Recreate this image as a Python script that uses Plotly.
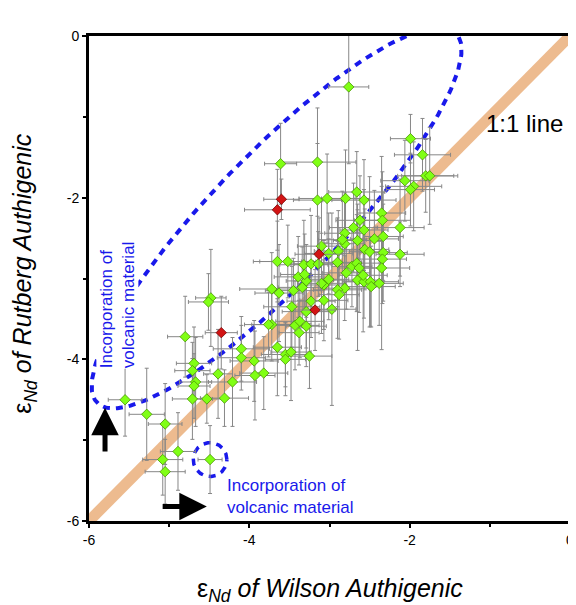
import numpy as np
import plotly.graph_objects as go

# ---------------- data (epsilon Nd) ----------------
wilson = [-5.55, -5.28, -5.05, -4.89, -5.08, -5.05, -4.49, -4.80, -4.48, -4.51,
          -4.69, -4.71, -4.67, -4.69, -4.71, -4.53, -4.39, -4.31, -4.21, -4.10,
          -4.10, -3.94, -3.93, -3.82, -3.65, -3.55, -3.55, -3.48, -3.25, -3.72,
          -3.76, -3.47, -3.43, -3.38, -3.29, -3.29, -3.07, -3.07, -3.72, -3.63,
          -3.45, -3.65, -3.52, -3.32, -3.23, -3.14, -3.39, -3.29, -3.10, -2.89,
          -2.81, -2.65, -2.90, -2.72, -2.66, -2.63, -2.79, -3.31, -3.10, -3.01,
          -2.65, -2.57, -3.34, -2.81, -2.90, -2.88, -3.23, -2.97, -3.37, -2.56,
          -2.50, -2.33, -2.12, -2.34, -2.35, -2.58, -2.49, -2.38, -2.48, -1.99,
          -1.84, -1.80, -1.75, -2.06, -1.95, -1.99, -2.57, -2.35, -2.34, -2.62,
          -2.12, -2.57, -2.44, -2.33, -3.61, -3.15, -3.15, -3.03, -2.80, -2.66,
          -2.70, -2.81, -2.84, -2.76, -3.01]
rutberg = [-4.50, -4.68, -4.80, -5.14, -5.24, -5.39, -5.24, -3.72, -3.24, -3.29,
           -4.05, -4.14, -4.28, -4.33, -4.49, -4.49, -4.18, -4.48, -4.28, -3.87,
           -3.98, -4.02, -4.20, -4.17, -3.85, -3.94, -4.00, -3.91, -3.96, -3.57,
           -3.57, -3.35, -3.58, -3.67, -3.59, -3.41, -3.27, -3.08, -3.13, -3.18,
           -3.15, -2.79, -2.79, -2.83, -2.82, -2.82, -2.98, -3.03, -2.60, -2.66,
           -2.57, -2.53, -2.80, -2.85, -2.81, -2.87, -2.93, -2.95, -3.06, -3.01,
           -3.02, -3.04, -3.11, -3.12, -3.14, -3.20, -3.28, -3.38, -3.53, -2.64,
           -2.67, -2.68, -2.70, -2.76, -2.87, -2.96, -3.04, -3.06, -3.10, -1.27,
           -1.47, -1.73, -1.73, -1.79, -1.86, -1.90, -2.03, -2.19, -2.28, -2.28,
           -2.37, -2.40, -2.51, -2.48, -1.58, -1.56, -2.03, -2.01, -2.01, -1.93,
           -2.37, -2.44, -2.52, -0.63, -2.69]
wilson_err = [0.21, 0.22, 0.21, 0.22, 0.25, 0.25, 0.15, 0.22, 0.19, 0.25,
              0.22, 0.22, 0.20, 0.20, 0.25, 0.20, 0.18, 0.30, 0.30, 0.35,
              0.30, 0.30, 0.25, 0.30, 0.30, 0.30, 0.25, 0.25, 0.28, 0.25,
              0.30, 0.35, 0.30, 0.25, 0.25, 0.30, 0.30, 0.25, 0.40, 0.30,
              0.35, 0.30, 0.35, 0.30, 0.25, 0.30, 0.30, 0.25, 0.30, 0.30,
              0.25, 0.30, 0.30, 0.25, 0.30, 0.25, 0.30, 0.30, 0.30, 0.25,
              0.30, 0.25, 0.30, 0.30, 0.30, 0.25, 0.30, 0.30, 0.30, 0.30,
              0.25, 0.30, 0.30, 0.30, 0.35, 0.30, 0.35, 0.30, 0.30, 0.25,
              0.35, 0.35, 0.35, 0.30, 0.35, 0.30, 0.40, 0.30, 0.35, 0.30,
              0.30, 0.30, 0.30, 0.25, 0.20, 0.48, 0.30, 0.35, 0.30, 0.35,
              0.30, 0.25, 0.30, 0.25, 0.30]
rutberg_err = [0.45, 0.57, 0.50, 0.48, 0.44, 0.40, 0.42, 0.50, 0.60, 0.35,
               0.45, 0.35, 0.55, 0.40, 0.50, 0.30, 0.55, 0.35, 0.55, 0.40,
               0.40, 0.50, 0.55, 0.45, 0.60, 0.40, 0.45, 0.60, 0.40, 0.45,
               0.40, 0.50, 0.55, 0.40, 0.50, 0.45, 0.50, 0.55, 0.45, 0.60,
               0.40, 0.50, 0.45, 0.55, 0.60, 0.40, 0.50, 0.45, 0.55, 0.50,
               0.60, 0.45, 0.55, 0.50, 0.60, 0.55, 0.45, 0.50, 0.62, 0.50,
               0.87, 0.45, 0.50, 0.40, 0.60, 0.55, 0.45, 1.19, 0.45, 0.50,
               0.93, 0.60, 0.40, 0.55, 1.01, 0.70, 0.55, 0.52, 0.50, 0.30,
               0.45, 0.45, 0.60, 0.50, 0.55, 0.45, 0.50, 0.70, 0.60, 0.55,
               0.60, 0.50, 0.60, 0.55, 0.50, 0.67, 0.70, 0.55, 0.60, 0.50,
               0.55, 0.50, 0.60, 0.95, 0.50]

red_wilson = [-4.35, -3.18, -3.13, -3.60, -3.65]
red_rutberg = [-3.67, -3.39, -2.70, -2.02, -2.15]
red_wilson_err = [0.20, 0.25, 0.30, 0.22, 0.41]
red_rutberg_err = [0.45, 0.50, 0.45, 0.25, 0.50]

one_to_one = [-6.3, 0.3]
tick_vals = [-6, -4, -2, 0]
tick_text = ["-6", "-4", "-2", "0"]
minor_vals = [-5, -3, -1]

# annotation ellipse parameters (in data units)
ell_cx, ell_cy, ell_a, ell_b, ell_ang = -3.66, -2.25, 3.2, 0.80, 45.7
circ_cx, circ_cy, circ_r = -4.49, -5.24, 0.21

FONT = "Liberation Sans, Arial, sans-serif"
BLUE = "rgb(25,25,235)"

t = np.linspace(0, 2 * np.pi, 300)
th = np.deg2rad(ell_ang)
ex = ell_cx + ell_a * np.cos(t) * np.cos(th) - ell_b * np.sin(t) * np.sin(th)
ey = ell_cy + ell_a * np.cos(t) * np.sin(th) + ell_b * np.sin(t) * np.cos(th)
cx = circ_cx + circ_r * np.cos(t)
cy = circ_cy + circ_r * np.sin(t)

fig = go.Figure()

fig.add_trace(go.Scatter(x=one_to_one, y=one_to_one, mode="lines",
                         line=dict(color="rgb(237,187,143)", width=11),
                         hoverinfo="skip", showlegend=False))

fig.add_trace(go.Scatter(x=ex, y=ey, mode="lines",
                         line=dict(color=BLUE, width=4, dash="7px,6px"),
                         hoverinfo="skip", showlegend=False))
fig.add_trace(go.Scatter(x=cx, y=cy, mode="lines",
                         line=dict(color=BLUE, width=3.5, dash="7px,6px"),
                         hoverinfo="skip", showlegend=False))

err_style = dict(type="data", visible=True, color="rgb(135,135,135)",
                 thickness=1, width=2)

fig.add_trace(go.Scatter(
    x=wilson, y=rutberg, mode="markers", cliponaxis=False,
    error_x=dict(array=wilson_err, **err_style),
    error_y=dict(array=rutberg_err, **err_style),
    marker=dict(symbol="diamond", size=8, color="rgb(128,255,20)",
                line=dict(color="rgb(70,150,0)", width=0.8)),
    showlegend=False))

fig.add_trace(go.Scatter(
    x=red_wilson, y=red_rutberg, mode="markers", cliponaxis=False,
    error_x=dict(array=red_wilson_err, **err_style),
    error_y=dict(array=red_rutberg_err, **err_style),
    marker=dict(symbol="diamond", size=8, color="rgb(210,20,20)",
                line=dict(color="rgb(120,0,0)", width=0.8)),
    showlegend=False))

axis_common = dict(
    range=[-6, 0], tickvals=tick_vals, ticktext=tick_text,
    ticks="outside", ticklen=4, tickwidth=2, tickcolor="black",
    showline=True, linewidth=3, linecolor="black", mirror=True,
    showgrid=False, zeroline=False,
    tickfont=dict(family=FONT, size=14, color="black"),
    minor=dict(tickvals=minor_vals, ticks="outside", ticklen=3,
               tickwidth=2, tickcolor="black"),
)

# page body has an 8px margin, so the figure is 8px smaller than the window
fig.update_layout(
    width=568, height=597,
    margin=dict(l=81, r=3, t=28, b=84),
    paper_bgcolor="white", plot_bgcolor="white",
    font=dict(family=FONT, color="black"),
    xaxis=dict(**axis_common),
    yaxis=dict(**axis_common),
    annotations=[
        dict(text="ε<sub><i>Nd</i></sub><i> of Wilson Authigenic</i>",
             xref="paper", yref="paper", x=0.502, y=-0.142,
             xanchor="center", yanchor="middle", showarrow=False,
             font=dict(family=FONT, size=25, color="black")),
        dict(text="ε<sub><i>Nd</i></sub><i> of Rutberg Authigenic</i>",
             xref="paper", yref="paper", x=-0.134, y=0.509, textangle=-90,
             xanchor="center", yanchor="middle", showarrow=False,
             font=dict(family=FONT, size=25, color="black")),
        dict(text="1:1 line", xref="x", yref="y", x=-0.57, y=-1.08,
             xanchor="center", yanchor="middle", showarrow=False,
             font=dict(family=FONT, size=24, color="black")),
        dict(text="Incorporation of<br>volcanic material", xref="x", yref="y",
             x=-4.30, y=-5.70, xanchor="left", yanchor="middle", align="left",
             showarrow=False, font=dict(family=FONT, size=17, color=BLUE)),
        dict(text="Incorporation of<br>volcanic material", xref="x", yref="y",
             x=-5.65, y=-3.33, xanchor="center", yanchor="middle", align="left",
             textangle=-90, showarrow=False, bgcolor="white", borderpad=0,
             font=dict(family=FONT, size=17, color=BLUE)),
        dict(text="", xref="x", yref="y", axref="x", ayref="y",
             x=-5.80, y=-4.60, ax=-5.80, ay=-5.16,
             showarrow=True, arrowhead=2, arrowwidth=5, arrowsize=1.1,
             arrowcolor="black", standoff=0),
        dict(text="", xref="x", yref="y", axref="x", ayref="y",
             x=-4.53, y=-5.82, ax=-5.10, ay=-5.82,
             showarrow=True, arrowhead=2, arrowwidth=5, arrowsize=1.1,
             arrowcolor="black", standoff=0),
    ],
)

fig.write_html("out.html")
